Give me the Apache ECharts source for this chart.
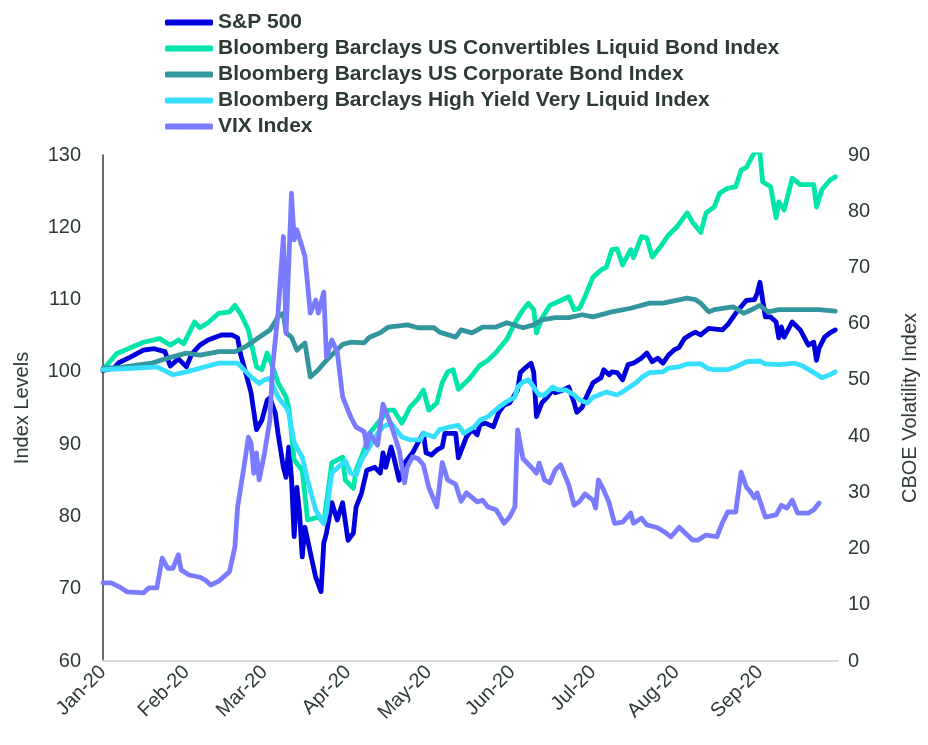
<!DOCTYPE html>
<html>
<head>
<meta charset="utf-8">
<script src="https://cdn.jsdelivr.net/npm/echarts@6/dist/echarts.min.js"></script>
<style>
  html, body { margin: 0; padding: 0; background: #fff; }
  #chart { width: 928px; height: 745px; }
</style>
</head>
<body>
<div id="chart"></div>
<script>
// [MM-DD, value], year 2020
const sp500 = [
  ['01-01',100.2],['01-05',100.5],['01-07',101.3],['01-11',102],['01-16',103],['01-20',103.2],['01-24',102.8],['01-26',100.8],['01-29',101.8],
  ['02-01',100.7],['02-03',102.5],['02-06',103.7],['02-09',104.4],['02-14',105.1],['02-18',105.1],['02-20',104.7],['02-21',102.6],['02-24',98.5],['02-25',97.1],['02-27',92],['02-29',93.3],
  ['03-02',96.1],['03-03',96.4],['03-05',94.3],['03-06',91.5],['03-08',86.8],['03-09',85.4],['03-10',89.6],['03-11',85.4],['03-12',77.2],['03-13',84],['03-14',80.5],['03-15',74.4],['03-16',78.5],['03-18',75],['03-20',71.6],['03-22',69.6],['03-23',76.3],['03-24',77.7],['03-26',81.9],['03-28',79.5],['03-30',81.9],
  ['04-01',76.7],['04-03',77.7],['04-04',81.3],['04-06',83.2],['04-08',86.4],['04-11',86.8],['04-13',86],['04-14',88.8],['04-15',86.8],['04-17',89.6],['04-18',88.2],['04-20',85],['04-22',87.4],['04-25',88.8],['04-27',90.2],['04-29',91.5],['04-30',88.8],
  ['05-02',88.5],['05-04',89.2],['05-06',89.6],['05-07',91.5],['05-09',91.5],['05-11',91.5],['05-12',88.1],['05-15',91],['05-17',92],['05-19',91.3],['05-20',92.7],['05-22',92.9],['05-25',92.4],['05-27',94.4],['05-29',95.4],['05-31',95.7],
  ['06-03',97.5],['06-04',99.9],['06-06',100.6],['06-08',101.2],['06-09',99.9],['06-10',93.8],['06-12',95.7],['06-14',96.5],['06-16',97.5],['06-17',97.1],['06-20',97.5],['06-22',97.9],['06-24',95.7],['06-25',94.4],['06-27',95.1],['06-28',96.1],
  ['07-01',98.5],['07-04',99.2],['07-05',100.3],['07-07',99.6],['07-08',100],['07-10',99.9],['07-12',98.9],['07-14',101],['07-16',101.2],['07-19',101.9],['07-21',102.6],['07-23',101.4],['07-25',101.9],['07-27',101.2],['07-29',102.3],['07-31',103],
  ['08-02',103.4],['08-04',104.6],['08-06',105.1],['08-08',105.5],['08-10',105.1],['08-13',106],['08-18',105.8],['08-20',106.5],['08-23',108.1],['08-27',109.9],['08-30',110],['08-31',110.9],
  ['09-01',112.4],['09-02',110],['09-03',107.6],['09-05',107.6],['09-07',106.9],['09-08',104.7],['09-09',106.2],['09-10',104.8],['09-13',106.9],['09-16',105.8],['09-18',104.4],['09-19',103.7],['09-21',104.1],['09-22',101.6],['09-23',103.3],['09-25',104.8],['09-27',105.4],['09-29',105.8]
];

const convertibles = [
  ['01-01',100.3],['01-06',102.5],['01-11',103.3],['01-16',104.1],['01-22',104.6],['01-26',103.7],['01-29',104.4],['01-31',103.9],
  ['02-04',106.9],['02-06',106.1],['02-09',106.8],['02-13',108.1],['02-17',108.3],['02-19',109.2],['02-21',108.1],['02-24',105.8],['02-27',100.7],['02-29',100.3],
  ['03-02',102.6],['03-04',100.7],['03-06',98.5],['03-09',96.5],['03-10',95.1],['03-11',91.5],['03-12',87.8],['03-15',86.4],['03-17',79.5],['03-21',79.9],['03-23',79.1],['03-26',87.4],['03-30',88.2],['03-31',85],
  ['04-03',83.9],['04-04',86.4],['04-07',89.2],['04-09',91.5],['04-16',94.7],['04-18',94.7],['04-21',92.9],['04-24',95.1],['04-27',96.3],['04-29',97.5],
  ['05-01',94.7],['05-04',95.7],['05-06',98.5],['05-08',100],['05-10',100.3],['05-12',97.6],['05-16',99],['05-20',100.9],['05-23',101.6],['05-26',102.7],['05-30',104.5],
  ['06-02',106.8],['06-05',108.6],['06-07',109.5],['06-09',108.6],['06-10',105.4],['06-12',107.4],['06-15',109.2],['06-18',109.7],['06-22',110.4],['06-24',108.6],['06-26',108.8],['06-28',110.4],
  ['07-01',113.1],['07-04',114.1],['07-06',114.5],['07-08',116.9],['07-10',117],['07-12',114.8],['07-15',116.9],['07-16',115.8],['07-19',118.7],['07-21',118.5],['07-23',115.9],['07-26',117.3],['07-29',118.9],
  ['08-01',120],['08-05',122],['08-07',120.7],['08-10',119.3],['08-12',122],['08-15',122.8],['08-17',124.7],['08-20',125.4],['08-23',125.6],['08-25',127.9],['08-27',128.3],['08-30',130.4],
  ['09-01',130.4],['09-02',126.3],['09-05',125.6],['09-07',121.3],['09-08',123.5],['09-10',122.4],['09-13',126.8],['09-16',125.9],['09-21',125.9],['09-22',122.8],['09-24',125.2],['09-27',126.5],['09-29',127]
];

const corporate = [
  ['01-01',100.5],['01-07',100.6],['01-19',101.2],['01-25',101.9],['02-01',102.6],['02-06',102.3],['02-13',102.8],['02-19',102.8],['02-23',103.5],['02-28',104.8],
  ['03-03',105.8],['03-06',107.6],['03-08',108.1],['03-09',105.4],['03-11',104.8],['03-13',103],['03-16',104],['03-18',99.3],['03-21',100.3],['03-24',101.6],['03-30',103.8],
  ['04-02',104.1],['04-07',104],['04-09',104.8],['04-13',105.4],['04-16',106.2],['04-23',106.5],['04-27',106.1],['05-03',106.1],['05-05',105.5],['05-11',104.8],['05-13',105.8],
  ['05-17',105.4],['05-21',106.2],['05-26',106.2],['05-30',106.8],['06-05',106.1],['06-09',106.5],['06-12',107.2],['06-17',107.5],['06-22',107.5],['06-27',107.9],
  ['07-01',107.6],['07-08',108.3],['07-15',108.8],['07-22',109.5],['07-27',109.5],['08-01',109.9],['08-05',110.2],['08-08',110],['08-10',109.5],['08-13',108.3],['08-15',108.6],
  ['08-22',109],['08-26',108.1],['08-30',108.8],['09-01',109.2],['09-04',108.3],['09-08',108.6],['09-17',108.6],['09-23',108.6],['09-29',108.4]
];

const highYield = [
  ['01-01',100.3],['01-12',100.5],['01-21',100.7],['01-27',99.6],['02-01',100],['02-06',100.5],['02-13',101.2],['02-20',101.2],['02-25',99.3],['02-28',98.4],
  ['03-01',98.9],['03-03',99.1],['03-06',96.5],['03-09',95.1],['03-10',94.3],['03-12',90.2],['03-15',88.2],['03-17',85],['03-20',80.9],['03-23',79],['03-24',80.5],['03-26',86],['03-31',87.7],
  ['04-02',86],['04-04',85.7],['04-06',87.8],['04-09',89.6],['04-11',91],['04-14',92.4],['04-17',92.9],['04-21',91],['04-24',90.6],['04-28',90.6],['04-29',91.5],
  ['05-03',91],['05-05',92],['05-09',92.4],['05-12',92.6],['05-14',91.5],['05-18',92.4],['05-20',93.3],['05-23',93.8],['05-27',95.1],['05-30',95.9],
  ['06-02',96.5],['06-03',97.9],['06-05',98.6],['06-07',98.9],['06-09',97.9],['06-11',96.8],['06-13',96.8],['06-16',97.9],['06-18',97.5],['06-21',97.5],['06-24',96.8],['06-26',96.1],['06-29',95.7],
  ['07-01',96.5],['07-06',97.2],['07-10',96.8],['07-13',97.5],['07-17',98.5],['07-19',99.2],['07-22',99.9],['07-27',100],['07-29',100.5],
  ['08-02',100.7],['08-05',101.1],['08-10',101.1],['08-13',100.4],['08-15',100.3],['08-20',100.3],['08-23',100.7],['08-27',101.4],
  ['09-01',101.5],['09-03',101.1],['09-08',101],['09-14',101.2],['09-17',100.8],['09-21',99.9],['09-24',99.2],['09-27',99.6],['09-29',100]
];

const vix = [
  ['01-01',13.9],['01-04',13.9],['01-07',13.2],['01-10',12.3],['01-16',12.1],['01-18',13],['01-21',13],['01-23',18.3],['01-25',16.5],['01-27',16.5],['01-29',18.9],['01-30',16.2],
  ['02-02',15.3],['02-06',14.9],['02-08',14.4],['02-10',13.5],['02-13',14.2],['02-17',15.9],['02-19',20.3],['02-20',27.4],['02-22',33.4],['02-24',39.8],['02-25',38.8],['02-26',33.4],['02-27',37],['02-28',32.2],
  ['03-01',37],['03-03',42.9],['03-04',52.3],['03-06',61.9],['03-08',75.5],['03-09',58.3],['03-11',83.2],['03-12',74.9],['03-13',76.7],['03-16',72],['03-18',61.9],['03-20',64.2],['03-21',61.9],['03-23',65.6],['03-24',54.1],['03-26',57.1],['03-28',55],['03-30',47],
  ['04-02',43.4],['04-04',41.6],['04-07',40.8],['04-08',38],['04-09',40.5],['04-12',38.4],['04-14',45.7],['04-17',42],['04-20',37.5],['04-22',31.7],['04-23',34.5],['04-25',36.3],['04-27',36],['04-29',34.9],
  ['05-01',30.9],['05-04',27.4],['05-06',35.3],['05-08',32.2],['05-11',31.4],['05-13',28.4],['05-15',29.9],['05-19',28.3],['05-21',28.6],['05-23',27.4],['05-26',26.9],['05-29',24.5],['05-31',25.6],
  ['06-02',27.4],['06-03',41.1],['06-05',36],['06-08',34.5],['06-10',33.4],['06-11',35.2],['06-13',32.2],['06-15',31.7],['06-17',34],['06-19',34.9],['06-22',31.3],['06-24',27.7],['06-26',28.4],['06-28',29.7],
  ['07-01',28.6],['07-02',27.2],['07-03',32.2],['07-05',30.4],['07-07',28.1],['07-09',24.5],['07-12',24.7],['07-15',26.3],['07-16',24.5],['07-19',25.4],['07-21',24.2],['07-25',23.7],['07-28',22.8],['07-30',22.1],
  ['08-02',23.8],['08-05',22.4],['08-07',21.5],['08-09',21.5],['08-12',22.4],['08-16',22.1],['08-18',24.5],['08-20',26.5],['08-23',26.5],['08-25',33.6],['08-27',30.9],['08-28',30.4],['08-30',29],['08-31',29.9],
  ['09-03',25.6],['09-07',26],['09-09',27.7],['09-11',27.2],['09-13',28.6],['09-15',26.3],['09-19',26.3],['09-21',26.9],['09-23',28.1]
];

const seriesNames = [
  'S&P 500',
  'Bloomberg Barclays US Convertibles Liquid Bond Index',
  'Bloomberg Barclays US Corporate Bond Index',
  'Bloomberg Barclays High Yield Very Liquid Index',
  'VIX Index'
];
const seriesColors = ['#0000DD', '#00E5AA', '#33959E', '#36DEFF', '#7B7BFF'];
const monthNames = ['Jan', 'Feb', 'Mar', 'Apr', 'May', 'Jun', 'Jul', 'Aug', 'Sep'];

// every calendar day from 1 Jan to 30 Sep 2020
const days = [];
for (let t = Date.UTC(2020, 0, 1); t <= Date.UTC(2020, 8, 30); t += 86400000) {
  const d = new Date(t);
  days.push(String(d.getUTCMonth() + 1).padStart(2, '0') + '-' + String(d.getUTCDate()).padStart(2, '0'));
}
const dayIndex = {};
days.forEach((d, i) => { dayIndex[d] = i });
const toPoints = (pts) => pts.map((p) => [dayIndex[p[0]], p[1]]);

const textColor = '#2E3B35';
const font = "'Liberation Sans', Arial, sans-serif";

const chart = echarts.init(document.getElementById('chart'));

const makeLine = (i, data, yIdx) => ({
  name: seriesNames[i],
  type: 'line',
  yAxisIndex: yIdx,
  data: toPoints(data),
  symbol: 'none',
  lineStyle: { color: seriesColors[i], width: 4.8, join: 'round', cap: 'round' },
  itemStyle: { color: seriesColors[i] },
  emphasis: { disabled: true }
});

chart.setOption({
  animation: false,
  textStyle: { fontFamily: font },
  legend: {
    orient: 'vertical',
    left: 160,
    top: 7,
    itemWidth: 48,
    itemHeight: 6,
    itemGap: 5,
    icon: 'roundRect',
    data: seriesNames,
    textStyle: { color: textColor, fontSize: 21, fontWeight: 'bold', fontFamily: font, lineHeight: 21 }
  },
  grid: { left: 103, right: 83, top: 155, bottom: 84 },
  xAxis: {
    type: 'category',
    data: days,
    boundaryGap: false,
    axisLine: { onZero: false, lineStyle: { color: '#D9D9D9', width: 2 } },
    axisTick: { show: false },
    axisLabel: {
      rotate: 45,
      margin: 8,
      color: textColor,
      fontSize: 20,
      fontFamily: font,
      interval: (idx, val) => val.slice(3) === '01',
      formatter: (val) => monthNames[Number(val.slice(0, 2)) - 1] + '-20'
    },
    splitLine: { show: false }
  },
  yAxis: [
    {
      type: 'value',
      min: 60,
      max: 130,
      interval: 10,
      name: 'Index Levels',
      nameLocation: 'middle',
      nameGap: 71,
      nameTextStyle: { color: textColor, fontSize: 20, fontFamily: font },
      axisLine: { show: true, lineStyle: { color: '#2F4039', width: 1.5 } },
      axisTick: { show: false },
      axisLabel: { color: textColor, fontSize: 20, margin: 22, fontFamily: font },
      splitLine: { show: false }
    },
    {
      type: 'value',
      min: 0,
      max: 90,
      interval: 10,
      position: 'right',
      name: 'CBOE Volatility Index',
      nameLocation: 'middle',
      nameGap: 62,
      nameTextStyle: { color: textColor, fontSize: 20, fontFamily: font },
      axisLine: { show: false },
      axisTick: { show: false },
      axisLabel: { color: textColor, fontSize: 20, margin: 10, fontFamily: font },
      splitLine: { show: false }
    }
  ],
  series: [
    makeLine(0, sp500, 0),
    makeLine(1, convertibles, 0),
    makeLine(2, corporate, 0),
    makeLine(3, highYield, 0),
    makeLine(4, vix, 1)
  ]
});
</script>
</body>
</html>
